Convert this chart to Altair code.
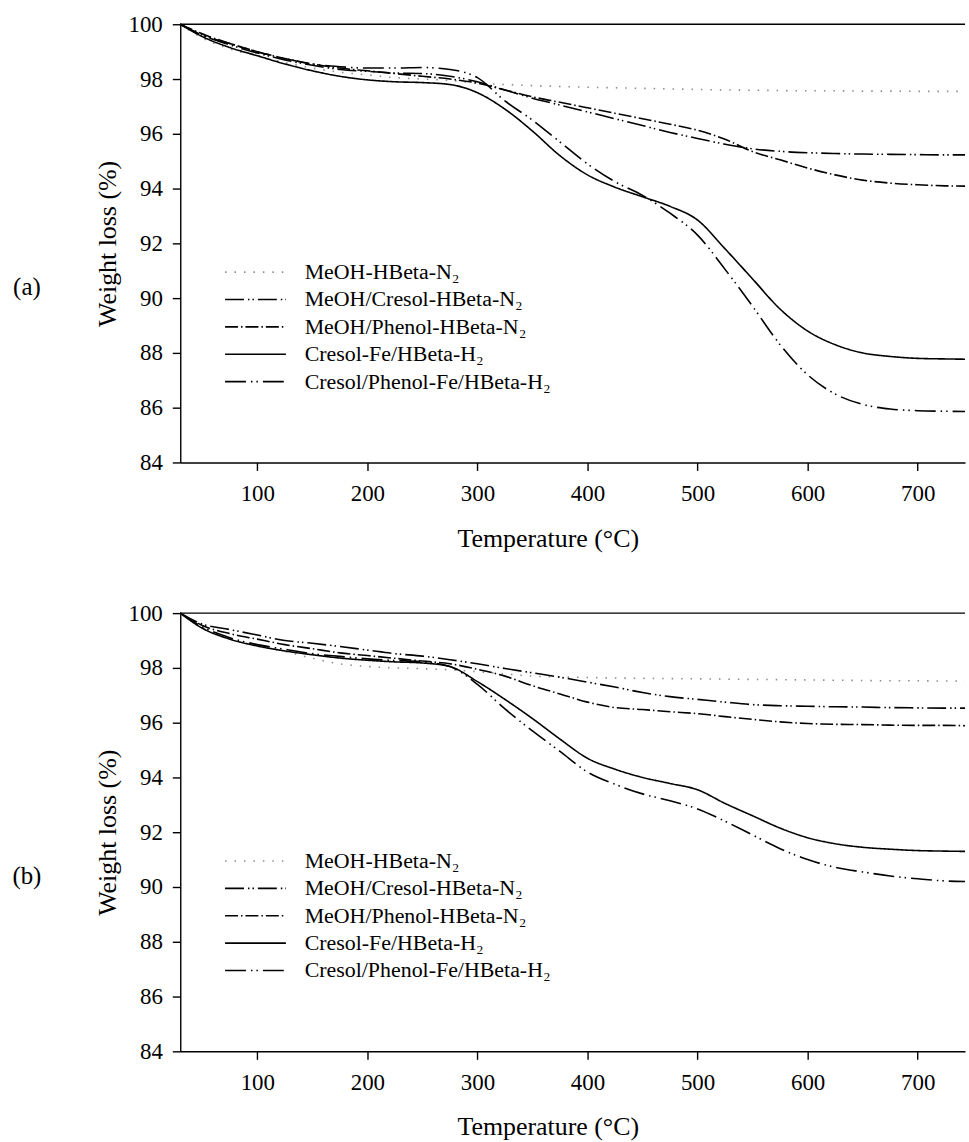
import altair as alt
import pandas as pd

# ---------------- data ----------------
temps = [30, 50, 75, 100, 125, 150, 175, 200, 225, 250, 275, 300, 325, 350, 375,
         400, 425, 450, 475, 500, 525, 550, 575, 600, 625, 650, 675, 700, 725, 743]

series_names = ["MeOH-HBeta-N₂", "MeOH/Cresol-HBeta-N₂", "MeOH/Phenol-HBeta-N₂",
                "Cresol-Fe/HBeta-H₂", "Cresol/Phenol-Fe/HBeta-H₂"]

# panel (a)
a_meoh = [100, 99.5, 99.1, 98.85, 98.6, 98.4, 98.25, 98.15, 98.05, 98.0, 97.95, 97.85, 97.8, 97.76, 97.73,
          97.7, 97.68, 97.66, 97.64, 97.62, 97.6, 97.59, 97.58, 97.57, 97.57, 97.56, 97.56, 97.55, 97.55, 97.55]
a_meoh_cresol = [100, 99.6, 99.25, 98.95, 98.7, 98.5, 98.35, 98.28, 98.22, 98.2, 98.1, 97.9, 97.6, 97.3, 97.05,
                 96.8, 96.55, 96.3, 96.05, 95.83, 95.62, 95.45, 95.36, 95.31, 95.28, 95.26, 95.25, 95.24, 95.23, 95.23]
a_meoh_phenol = [100, 99.65, 99.3, 99.0, 98.75, 98.55, 98.4, 98.3, 98.2, 98.1, 98.0, 97.85, 97.6, 97.35, 97.15,
                 96.95, 96.75, 96.55, 96.35, 96.13, 95.8, 95.35, 95.05, 94.75, 94.5, 94.31, 94.2, 94.14, 94.1, 94.09]
a_cresol_fe = [100, 99.55, 99.15, 98.85, 98.55, 98.3, 98.1, 97.97, 97.9, 97.87, 97.8, 97.5, 96.9, 96.1, 95.2,
               94.5, 94.05, 93.7, 93.35, 92.85, 91.8, 90.7, 89.6, 88.8, 88.3, 88.0, 87.87, 87.8, 87.78, 87.77]
a_cresol_phenol = [100, 99.6, 99.3, 99.0, 98.75, 98.55, 98.45, 98.4, 98.4, 98.42, 98.35, 98.05, 97.2, 96.5, 95.7,
                   94.9, 94.25, 93.75, 93.1, 92.3, 91.05, 89.7, 88.3, 87.2, 86.5, 86.12, 85.95, 85.89, 85.87, 85.86]

# panel (b)
b_meoh = [100, 99.45, 99.05, 98.8, 98.6, 98.35, 98.15, 98.05, 98.0, 97.97, 97.93, 97.86, 97.78, 97.7, 97.67,
          97.65, 97.63, 97.62, 97.61, 97.6, 97.59, 97.58, 97.57, 97.56, 97.55, 97.54, 97.53, 97.53, 97.52, 97.52]
b_meoh_cresol = [100, 99.6, 99.4, 99.2, 99.0, 98.9, 98.78, 98.65, 98.52, 98.43, 98.3, 98.15, 97.98, 97.82, 97.66,
                 97.48, 97.3, 97.1, 96.95, 96.85, 96.75, 96.66, 96.62, 96.6, 96.58, 96.57, 96.55, 96.54, 96.53, 96.53]
b_meoh_phenol = [100, 99.55, 99.25, 99.05, 98.85, 98.7, 98.55, 98.45, 98.35, 98.25, 98.15, 97.95, 97.7, 97.35, 97.05,
                 96.75, 96.55, 96.48, 96.4, 96.33, 96.22, 96.12, 96.03, 95.97, 95.94, 95.93, 95.91, 95.9, 95.9, 95.89]
b_cresol_fe = [100, 99.45, 99.05, 98.8, 98.62, 98.48, 98.36, 98.28, 98.22, 98.18, 98.05, 97.5, 96.85, 96.15, 95.4,
               94.7, 94.3, 94.0, 93.78, 93.55, 93.05, 92.6, 92.15, 91.8, 91.58, 91.45, 91.38, 91.33, 91.31, 91.3]
b_cresol_phenol = [100, 99.5, 99.1, 98.85, 98.68, 98.52, 98.42, 98.33, 98.27, 98.22, 98.05, 97.4, 96.5, 95.7, 94.95,
                   94.2, 93.75, 93.4, 93.15, 92.85, 92.4, 91.9, 91.4, 91.0, 90.72, 90.55, 90.4, 90.3, 90.22, 90.2]

x_ticks = [100, 200, 300, 400, 500, 600, 700]
y_ticks = [84, 86, 88, 90, 92, 94, 96, 98, 100]
legend_y = [90.95, 89.95, 88.95, 87.95, 86.95]
legend_x = [70.7, 126]
legend_text_x = 143

dashes = [[1.5, 8], [19, 4, 1.5, 3, 1.5, 4], [13, 3, 1.5, 3], [1, 0], [21, 5, 1.5, 4, 1.5, 5]]
colors = ["#8c8c8c", "black", "black", "black", "black"]

FONT = "Liberation Serif"


def long_df(cols):
    rows = []
    for name, vals in zip(series_names, cols):
        for t, v in zip(temps, vals):
            rows.append({"series": name, "T": t, "W": v})
    return pd.DataFrame(rows)


AXIS_STYLE = dict(
    grid=False, domainColor="black", domainWidth=1.4, tickColor="black", tickWidth=1.4, tickSize=8,
    labelFont=FONT, labelFontSize=23, labelColor="black",
    titleFont=FONT, titleFontSize=26, titleFontWeight="normal", titleColor="black",
)


def panel(cols, tag, anchor=None):
    df = long_df(cols)
    leg_rows = []
    for name, ly in zip(series_names, legend_y):
        for lx in legend_x:
            leg_rows.append({"series": name, "T": lx, "W": ly})
    leg_df = pd.DataFrame(leg_rows)
    txt_df = pd.DataFrame({"label": series_names, "T": [legend_text_x] * 5, "W": legend_y})

    x = alt.X("T:Q", scale=alt.Scale(domain=[30, 743], nice=False, zero=False),
              axis=alt.Axis(values=x_ticks, title="Temperature (°C)", titleX=369, titleY=76,
                            titleAlign="center", titleBaseline="middle", labelPadding=12, **AXIS_STYLE))
    y = alt.Y("W:Q", scale=alt.Scale(domain=[84, 100], nice=False, zero=False),
              axis=alt.Axis(values=y_ticks, title="Weight loss (%)", titleX=-73, titleY=220,
                            titleAngle=270, titleAlign="center", titleBaseline="middle",
                            labelPadding=10, **AXIS_STYLE))
    dash = alt.StrokeDash("series:N", scale=alt.Scale(domain=series_names, range=dashes), legend=None)
    col = alt.Color("series:N", scale=alt.Scale(domain=series_names, range=colors), legend=None)

    lines = alt.Chart(df).mark_line(strokeWidth=1.6, interpolate="monotone").encode(
        x=x, y=y, strokeDash=dash, color=col, detail="series:N")
    leg_lines = alt.Chart(leg_df).mark_line(strokeWidth=1.6).encode(
        x=x, y=y, strokeDash=dash, color=col, detail="series:N")
    leg_text = alt.Chart(txt_df).mark_text(align="left", baseline="middle", font=FONT,
                                           fontSize=22, color="black").encode(
        x=x, y=y, text="label:N")
    top_rule = alt.Chart(pd.DataFrame({"W": [100]})).mark_rule(color="black", strokeWidth=1.4).encode(y=y)
    tag_text = alt.Chart(pd.DataFrame({"t": [tag]})).mark_text(
        align="center", baseline="middle", font=FONT, fontSize=25, color="black").encode(
        x=alt.value(-154), y=alt.value(264), text="t:N")
    layers = [top_rule, lines, leg_lines, leg_text, tag_text]
    if anchor is not None:
        # invisible frame marker so the page origin lands where the reference's does
        layers.append(alt.Chart(pd.DataFrame({"a": [0]})).mark_rule(
            color="white", opacity=0, strokeWidth=0.01).encode(
            x=alt.value(anchor[0]), x2=alt.value(anchor[0] + 1),
            y=alt.value(anchor[1]), y2=alt.value(anchor[1])))
    return alt.layer(*layers).properties(width=788, height=440)


chart = alt.vconcat(
    panel([a_meoh, a_meoh_cresol, a_meoh_phenol, a_cresol_fe, a_cresol_phenol], "(a)", anchor=(-181, -22)),
    panel([b_meoh, b_meoh_cresol, b_meoh_phenol, b_cresol_fe, b_cresol_phenol], "(b)"),
    spacing=151.3,
    bounds="flush",
).properties(
    padding=0,
    background="white",
).configure(font=FONT).configure_view(stroke=None).configure_axis(
    labelFont=FONT, titleFont=FONT,
)

chart.save("out.html", embed_options={"renderer": "svg", "actions": False})
